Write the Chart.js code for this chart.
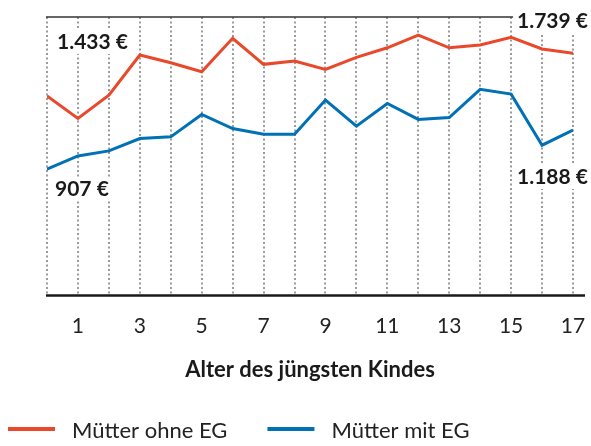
<!DOCTYPE html>
<html>
<head>
<meta charset="utf-8">
<script src="https://cdn.jsdelivr.net/npm/chart.js@4"></script>
<style>
  body { margin: 0; background: #fff; }
  #wrap { width: 591px; height: 446px; }
</style>
</head>
<body>
<div id="wrap"><canvas id="einkommenChart"></canvas></div>
<script>
// Alter des jüngsten Kindes (0 bis 17)
var ages = [0, 1, 2, 3, 4, 5, 6, 7, 8, 9, 10, 11, 12, 13, 14, 15, 16, 17];
var ohneEG = [1433, 1271, 1439, 1727, 1671, 1607, 1847, 1660, 1683, 1624, 1710, 1779, 1870, 1779, 1799, 1854, 1770, 1739];
var mitEG = [907, 1002, 1038, 1127, 1139, 1300, 1199, 1158, 1158, 1403, 1216, 1379, 1264, 1278, 1480, 1446, 1079, 1188];
var tickLabels = ['1', '3', '5', '7', '9', '11', '13', '15', '17'];

var rot = '#e9482b';
var blau = '#0071b4';

function euro(v) {
    var s = String(Math.round(v));
    if (s.length > 3) s = s.slice(0, s.length - 3) + '.' + s.slice(s.length - 3);
    return s + ' €';
}

// Rahmenlinien, Werte-Beschriftungen und Legende
var extras = {
    id: 'extras',
    beforeDatasetsDraw: function(chart) {
        var c = chart.ctx, a = chart.chartArea;
        c.save();
        c.strokeStyle = '#333';
        c.lineWidth = 1.5;
        c.beginPath();
        c.moveTo(a.left - 1, a.top);
        c.lineTo(a.right, a.top);
        c.stroke();
        c.strokeStyle = '#1a1a1a';
        c.lineWidth = 2.5;
        c.beginPath();
        c.moveTo(a.left - 1, a.bottom);
        c.lineTo(a.right + 12, a.bottom);
        c.stroke();
        c.restore();
    },
    afterDatasetsDraw: function(chart) {
        var c = chart.ctx, a = chart.chartArea;
        var n = ages.length - 1;
        var labels = [
            { t: euro(ohneEG[0]), x: a.left + 10, y: 42, align: 'left' },
            { t: euro(mitEG[0]), x: a.left + 8, y: 189, align: 'left' },
            { t: euro(ohneEG[n]), x: 588, y: 21, align: 'right' },
            { t: euro(mitEG[n]), x: 588, y: 177, align: 'right' }
        ];
        c.save();
        c.font = 'bold 21px Lato';
        c.textBaseline = 'middle';
        c.textAlign = 'left';
        labels.forEach(function(l) {
            var w = c.measureText(l.t).width;
            var x0 = l.align === 'left' ? l.x : l.x - w;
            c.fillStyle = '#fff';
            c.fillRect(x0 - 4, l.y - 12, w + 8, 24);
            c.fillStyle = '#1a1a1a';
            c.fillText(l.t, x0, l.y);
        });

        // Legende
        var x = 8, y = chart.height - 17;
        c.font = '22px Lato';
        chart.data.datasets.forEach(function(d) {
            c.fillStyle = d.borderColor;
            c.fillRect(x, y - 2, 47, 4);
            x += 47 + 17;
            c.fillStyle = '#222';
            c.fillText(d.label, x, y + 2);
            x += c.measureText(d.label).width + 40;
        });
        c.restore();
    }
};

var ctx = document.getElementById('einkommenChart').getContext('2d');
var chart = new Chart(ctx, {
    type: 'line',
    data: {
        labels: ages,
        datasets: [{
            label: 'Mütter ohne EG',
            data: ohneEG,
            borderColor: rot,
            backgroundColor: rot,
            borderWidth: 3,
            pointRadius: 0,
            tension: 0
        }, {
            label: 'Mütter mit EG',
            data: mitEG,
            borderColor: blau,
            backgroundColor: blau,
            borderWidth: 3,
            pointRadius: 0,
            tension: 0
        }]
    },
    options: {
        responsive: true,
        maintainAspectRatio: false,
        animation: false,
        layout: {
            padding: { left: 8, right: 18, top: 17, bottom: 63 }
        },
        scales: {
            x: {
                type: 'linear',
                min: 0,
                max: 17,
                grid: {
                    color: '#9b9b9b',
                    lineWidth: 2,
                    drawTicks: false
                },
                border: { display: false, dash: [2, 2.5] },
                ticks: {
                    stepSize: 1,
                    autoSkip: false,
                    maxRotation: 0,
                    padding: 18,
                    color: '#222',
                    font: { family: 'Lato', size: 21 },
                    callback: function(v) {
                        var s = String(v);
                        return tickLabels.indexOf(s) >= 0 ? s : '';
                    }
                },
                title: {
                    display: true,
                    text: 'Alter des jüngsten Kindes',
                    color: '#1a1a1a',
                    font: { family: 'Lato', size: 22, weight: 'bold' },
                    padding: { top: 0, bottom: 0 }
                },
                afterFit: function(scale) {
                    scale.paddingLeft = 0;
                    scale.paddingRight = 0;
                }
            },
            y: {
                min: 0,
                max: 2000,
                grid: { display: false },
                border: { display: false },
                ticks: { display: false },
                afterFit: function(scale) { scale.width = 39; }
            }
        },
        plugins: {
            legend: { display: false },
            tooltip: { enabled: false }
        }
    },
    plugins: [extras]
});
</script>
</body>
</html>
